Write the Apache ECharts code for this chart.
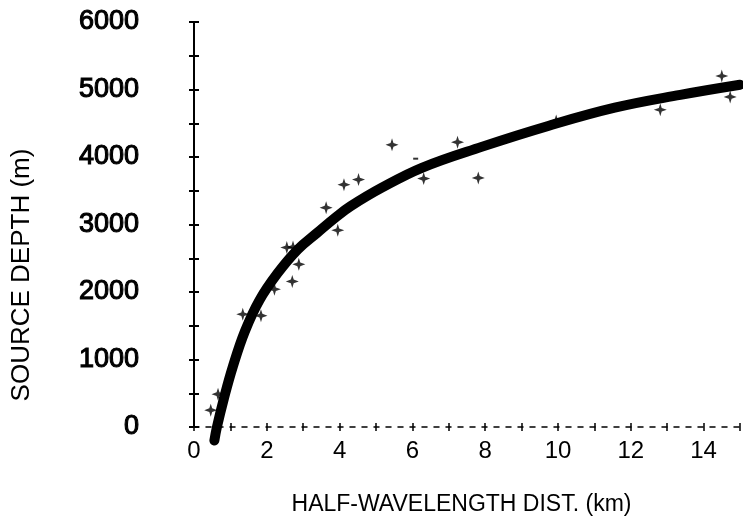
<!DOCTYPE html>
<html>
<head>
<meta charset="utf-8">
<script src="https://cdn.jsdelivr.net/npm/echarts@6/dist/echarts.min.js"></script>
<style>
html,body{margin:0;padding:0;background:#fff;}
#chart{width:743px;height:521px;}
</style>
</head>
<body>
<div id="chart"></div>
<script>
// Fitted curve (half-wavelength distance km, source depth m)
var curveX = [0.56, 0.63, 0.82, 1.07, 1.4, 1.8, 2.3, 2.85, 3.39, 3.9, 4.3, 5.16, 6.26, 7.9, 9.73, 11.56, 13.36, 15];
var curveY = [-200, 0, 420, 900, 1420, 1880, 2280, 2630, 2880, 3110, 3270, 3545, 3840, 4150, 4460, 4730, 4920, 5070];
// Observed data points (+)
var pointX = [14.5, 14.73, 12.81, 9.95, 7.24, 5.44, 6.31, 7.81, 4.52, 4.12, 3.63, 3.95, 2.55, 2.72, 2.88, 2.7, 2.21, 1.84, 1.34, 0.66, 0.46];
var pointY = [5200, 4890, 4700, 4535, 4220, 4180, 3680, 3690, 3665, 3590, 3250, 2915, 2660, 2665, 2410, 2157, 2040, 1650, 1670, 487, 250];
// Small dash mark
var dashX = [6.09];
var dashY = [3975];
// Axis tick labels
var xTickLabels = [0, 2, 4, 6, 8, 10, 12, 14];
var yTickLabels = [0, 1000, 2000, 3000, 4000, 5000, 6000];

function pairs(xs, ys) { return xs.map(function (x, i) { return [x, ys[i]]; }); }

var plus = 'path://M5,0L6.1,3.6L10,5L6.1,6.4L5,10L3.9,6.4L0,5L3.9,3.6Z';
var font = '"Liberation Sans", Arial, Helvetica, sans-serif';

var chart = echarts.init(document.getElementById('chart'), null, {renderer: 'canvas'});
var option = {
  backgroundColor: '#ffffff',
  animation: false,
  grid: {left: 194, right: 0, top: 22, bottom: 93, containLabel: false},
  xAxis: [{
    type: 'value', min: 0, max: 15, interval: 1,
    axisLine: {show: true, onZero: false, lineStyle: {color: '#000', width: 1.5, type: [5, 7]}},
    axisTick: {show: true, inside: false, length: 4, lineStyle: {color: '#000', width: 1.5}},
    splitLine: {show: false},
    axisLabel: {
      margin: 12, color: '#000', fontSize: 24, fontFamily: font,
      formatter: function (v) { return xTickLabels.indexOf(v) >= 0 ? String(v) : ''; }
    },
    name: 'HALF-WAVELENGTH DIST. (km)', nameLocation: 'middle', nameGap: 66,
    nameTextStyle: {color: '#000', fontSize: 23, fontFamily: font, padding: [0, 11, 0, 0]}
  }, {
    type: 'value', min: 0, max: 15, interval: 1, position: 'bottom',
    axisLine: {show: false},
    axisTick: {show: true, inside: true, length: 4, lineStyle: {color: '#000', width: 1.5}},
    axisLabel: {show: false}, splitLine: {show: false}
  }],
  yAxis: [{
    type: 'value', min: 0, max: 6000, interval: 500,
    axisLine: {show: true, onZero: false, lineStyle: {color: '#000', width: 2}},
    axisTick: {show: true, inside: false, length: 5, lineStyle: {color: '#000', width: 2}},
    splitLine: {show: false},
    axisLabel: {
      margin: 55, color: '#000', fontSize: 27, fontFamily: font,
      textBorderColor: '#000', textBorderWidth: 1.1,
      formatter: function (v) { return yTickLabels.indexOf(v) >= 0 ? String(v) : ''; }
    }
  }, {
    type: 'value', min: 0, max: 6000, interval: 500, position: 'left', offset: 0,
    axisLine: {show: false},
    axisTick: {show: true, inside: true, length: 5, lineStyle: {color: '#000', width: 2}},
    axisLabel: {show: false}, splitLine: {show: false}
  }],
  graphic: [{
    type: 'text', x: 22, y: 275, rotation: Math.PI / 2,
    style: {text: 'SOURCE DEPTH (m)', fill: '#000', fontSize: 26, fontFamily: font,
      align: 'center', verticalAlign: 'middle'}
  }],
  series: [{
    type: 'line', data: pairs(curveX, curveY), smooth: 0.4,
    showSymbol: false, symbol: 'none',
    clip: false, lineStyle: {color: '#000', width: 10, cap: 'round', join: 'round'}, z: 3
  }, {
    type: 'scatter', data: pairs(pointX, pointY), symbol: plus, symbolSize: 13,
    clip: false, itemStyle: {color: '#000'}, z: 4
  }, {
    type: 'scatter', data: pairs(dashX, dashY), symbol: 'rect', symbolSize: [5, 2],
    clip: false, itemStyle: {color: '#000'}, z: 4
  }]
};
chart.setOption(option);
</script>
</body>
</html>
